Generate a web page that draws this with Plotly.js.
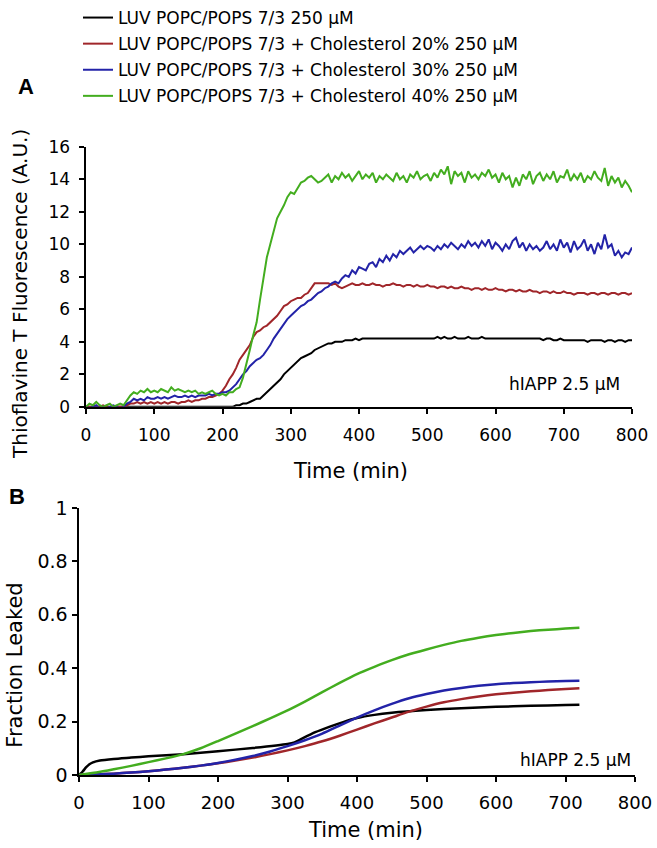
<!DOCTYPE html>
<html>
<head>
<meta charset="utf-8">
<script src="https://cdn.plot.ly/plotly-3.0.1.min.js"></script>
<style>html,body{margin:0;padding:0;background:#fff;}</style>
</head>
<body>
<div id="chart" style="width:657px;height:848px;"></div>
<script>
// ---------- Labels ----------
var seriesNames = [
  "LUV POPC/POPS 7/3 250 \u03bcM",
  "LUV POPC/POPS 7/3 + Cholesterol 20% 250 \u03bcM",
  "LUV POPC/POPS 7/3 + Cholesterol 30% 250 \u03bcM",
  "LUV POPC/POPS 7/3 + Cholesterol 40% 250 \u03bcM"
];
var seriesColors = ["#000000", "#a0262a", "#2323a8", "#43ad1f"];
var xTicks = [0,100,200,300,400,500,600,700,800];
var yTicksA = [0,2,4,6,8,10,12,14,16];
var yTicksB = [0,0.2,0.4,0.6,0.8,1];
var titleA_y = "Thioflavine T Fluorescence (A.U.)";
var titleB_y = "Fraction Leaked";
var titleX = "Time (min)";
var conditionNote = "hIAPP 2.5 \u03bcM";

// ---------- Panel A: ThT fluorescence (time in min) ----------
var tA = [0,5,10,15,20,25,30,35,40,45,50,55,60,65,70,75,80,85,90,95,
  100,105,110,115,120,125,130,135,140,145,150,155,160,165,170,175,180,185,190,195,
  200,205,210,215,220,225,230,235,240,245,250,255,260,265,270,275,280,285,290,295,
  300,305,310,315,320,325,330,335,340,345,350,355,360,365,370,375,380,385,390,395,
  400,405,410,415,420,425,430,435,440,445,450,455,460,465,470,475,480,485,490,495,
  500,505,510,515,520,525,530,535,540,545,550,555,560,565,570,575,580,585,590,595,
  600,605,610,615,620,625,630,635,640,645,650,655,660,665,670,675,680,685,690,695,
  700,705,710,715,720,725,730,735,740,745,750,755,760,765,770,775,780,785,790,795,800];

var thtBlack = [
  0,0,0,0,0,0,0,0,0,0,0,0,0,0,0,0,0,0,0,0,
  0,0,0,0,0,0,0,0,0,0,0,0,0,0,0,0,0,0,0,0,
  0,0,0,0,
  0.1,0.1,0.2,0.2,0.3,0.4,0.5,0.5,0.7,0.9,1.1,1.3,1.5,1.7,2.0,2.2,2.4,2.6,2.8,3.0,
  3.1,3.2,3.3,3.5,3.6,3.7,3.8,3.9,3.9,4.0,4.0,4.0,4.1,4.1,4.1,4.2,
  4.1,4.2,4.2,4.2,4.2,4.2,4.2,4.2,4.2,4.2,
  4.2,4.2,4.2,4.2,4.2,4.2,4.2,4.2,4.2,4.2,
  4.2,4.2,4.2,4.3,4.2,4.3,4.2,4.2,4.3,4.2,
  4.2,4.2,4.3,4.2,4.2,4.2,4.3,4.2,4.2,4.2,
  4.2,4.2,4.2,4.2,4.2,4.2,4.2,4.2,4.2,4.2,
  4.2,4.2,4.2,4.2,4.1,4.2,4.2,4.1,4.1,4.2,
  4.1,4.1,4.1,4.1,4.1,4.1,4.1,4.0,4.1,4.1,
  4.1,4.1,4.0,4.1,4.1,4.0,4.1,4.1,4.0,4.1,
  4.1];

var thtChol20 = [
  0.0,0.0,-0.1,0.0,0.0,0.1,0.0,-0.1,0.0,0.0,0.0,0.0,
  0.1,0.2,0.2,0.3,0.2,0.3,0.2,0.3,
  0.2,0.3,0.2,0.3,0.2,0.3,0.3,0.2,0.3,0.3,0.4,0.3,0.4,0.4,0.5,0.5,0.6,0.6,0.7,0.8,
  1.0,1.3,1.7,2.0,2.4,2.9,3.2,3.5,3.8,4.3,4.6,4.7,4.9,5.0,5.2,5.4,5.6,5.9,6.2,6.3,
  6.5,6.6,6.7,6.7,6.9,7.0,7.3,7.6,7.6,
  7.6,7.6,7.6,7.5,7.6,7.4,7.3,7.4,7.5,7.6,
  7.5,7.5,7.6,7.5,7.5,7.6,7.5,7.5,7.4,7.5,
  7.5,7.6,7.5,7.5,7.4,7.5,7.5,7.4,7.5,7.4,
  7.4,7.5,7.4,7.4,7.3,7.4,7.4,7.3,7.4,7.3,
  7.3,7.4,7.3,7.3,7.2,7.3,7.3,7.2,7.3,7.2,
  7.2,7.3,7.2,7.2,7.1,7.2,7.2,7.1,7.2,7.1,
  7.1,7.2,7.1,7.1,7.0,7.1,7.1,7.0,7.1,7.0,
  7.0,7.1,7.0,7.0,6.9,7.0,7.0,7.0,6.9,7.0,
  7.0,6.9,7.0,7.0,6.9,7.0,7.0,6.9,7.0,7.0,
  6.9,7.0];

var thtChol30 = [
  0.0,-0.1,0.0,0.1,-0.1,0.0,-0.1,0.0,0.1,0.0,-0.1,0.0,
  0.2,0.3,0.5,0.4,0.5,0.4,0.6,0.5,
  0.5,0.6,0.5,0.6,0.5,0.6,0.7,0.6,0.6,0.7,0.6,0.7,0.6,0.7,0.7,0.7,0.8,0.7,0.8,0.8,
  0.9,0.9,1.0,1.2,1.4,1.7,2.0,2.2,2.5,2.7,2.9,3.0,3.2,3.5,3.8,4.2,4.5,4.8,5.1,5.4,
  5.6,5.8,6.0,6.2,6.3,6.5,6.6,6.8,7.0,
  7.1,7.3,7.4,7.6,7.7,7.6,7.9,8.1,8.0,8.4,
  8.2,8.6,8.5,8.4,8.8,8.9,8.6,9.1,8.9,9.3,
  9.0,9.4,9.2,9.6,9.4,9.6,9.8,9.5,9.7,9.9,
  9.7,9.9,9.8,9.6,9.9,9.7,10.0,9.8,10.1,9.9,
  9.7,10.0,9.8,10.2,9.9,10.1,9.8,10.2,9.9,10.3,
  9.7,10.1,9.9,9.6,10.0,9.7,10.2,10.4,9.8,10.1,
  9.6,10.0,9.7,9.9,9.6,9.8,10.2,9.7,10.0,9.6,
  10.3,9.8,10.1,9.5,10.2,9.7,9.9,10.3,9.6,10.0,
  9.4,10.1,9.7,10.6,9.8,10.0,9.3,9.6,9.2,9.5,
  9.4,9.8];

var thtChol40 = [
  0.0,0.2,0.1,0.3,0.1,0.0,0.1,0.2,0.0,0.1,0.2,0.1,
  0.4,0.7,0.9,0.8,1.0,0.9,1.1,0.9,
  1.0,0.9,1.1,1.0,0.9,1.2,1.0,1.1,1.0,0.9,1.0,0.9,1.0,0.8,0.9,0.8,0.9,1.0,0.8,0.7,
  0.8,0.7,0.9,0.9,1.1,1.2,1.8,2.6,3.5,4.4,5.2,6.6,8.0,9.2,10.0,10.8,11.6,12.0,12.4,12.9,
  13.2,13.1,13.5,13.8,13.9,14.1,14.2,14.0,13.8,
  13.9,14.1,14.3,13.8,14.2,14.0,14.4,14.1,14.3,13.9,
  14.2,14.5,14.0,14.3,14.1,14.4,13.8,14.2,14.0,14.3,
  14.1,13.9,14.4,14.0,14.2,13.8,14.3,14.1,14.5,14.0,
  14.2,14.3,13.9,14.4,14.1,14.6,14.3,14.8,13.7,14.5,
  14.2,14.4,13.8,14.5,14.1,14.3,14.0,14.4,14.2,14.6,
  14.1,14.3,13.8,14.4,14.0,14.2,13.5,14.1,13.6,14.3,
  14.0,14.5,13.7,14.2,14.4,13.9,14.3,14.0,14.5,13.8,
  14.2,14.1,14.6,13.9,14.3,14.0,14.4,13.8,14.2,14.0,
  14.5,14.1,13.9,14.7,13.6,14.2,13.8,14.1,13.5,13.9,
  13.6,13.2];

// ---------- Panel B: fraction leaked ----------
var tB_black = [0,5,10,15,20,30,50,75,100,150,200,250,300,310,320,340,360,380,400,425,450,500,550,600,650,700,720];
var leakBlack = [0,0.012,0.028,0.04,0.047,0.054,0.06,0.065,0.07,0.078,0.089,0.101,0.116,0.122,0.135,0.16,0.18,0.198,0.213,0.225,0.233,0.243,0.25,0.255,0.259,0.262,0.263];

var tB = [0,25,50,75,100,125,150,175,200,225,250,275,300,325,350,375,400,425,450,475,500,525,550,575,600,625,650,675,700,720];
var leakChol20 = [0,0.002,0.005,0.009,0.014,0.02,0.027,0.035,0.044,0.054,0.065,0.078,0.092,0.108,0.126,0.147,0.17,0.193,0.215,0.237,0.256,0.272,0.284,0.294,0.302,0.308,0.313,0.318,0.322,0.325];
var leakChol30 = [0,0.002,0.005,0.009,0.014,0.02,0.027,0.035,0.045,0.057,0.071,0.088,0.108,0.13,0.155,0.185,0.215,0.242,0.266,0.287,0.303,0.316,0.326,0.334,0.34,0.344,0.347,0.35,0.352,0.353];
var leakChol40 = [0,0.009,0.021,0.034,0.048,0.062,0.078,0.1,0.127,0.155,0.183,0.212,0.242,0.275,0.31,0.345,0.378,0.405,0.43,0.452,0.47,0.487,0.502,0.514,0.524,0.532,0.539,0.544,0.548,0.551];

var FONT = "DejaVu Sans, sans-serif";

var aY = [thtBlack, thtChol20, thtChol30, thtChol40];
var bX = [tB_black, tB, tB, tB];
var bY = [leakBlack, leakChol20, leakChol30, leakChol40];

var traces = [];
for (var i = 0; i < 4; i++) {
  traces.push({
    x: tA, y: aY[i], xaxis: 'x', yaxis: 'y', type: 'scatter', mode: 'lines',
    name: seriesNames[i], legendgroup: 'g' + i,
    line: {color: seriesColors[i], width: 2}
  });
}
for (var j = 0; j < 4; j++) {
  traces.push({
    x: bX[j], y: bY[j], xaxis: 'x2', yaxis: 'y2', type: 'scatter', mode: 'lines',
    name: seriesNames[j], legendgroup: 'g' + j, showlegend: false,
    line: {color: seriesColors[j], width: 2.5, shape: 'spline', smoothing: 0.6}
  });
}

function axisBase(fs, standoff) {
  return {
    showgrid: false, zeroline: false, showline: true, linecolor: '#000', linewidth: 2.5,
    ticks: 'outside', ticklen: 5, tickwidth: 2, tickcolor: '#000',
    tickfont: {family: FONT, size: fs, color: '#000'}, ticklabelstandoff: standoff,
    automargin: false, fixedrange: true
  };
}

var xa = axisBase(17, 6); Object.assign(xa, {domain: [86/657, 632/657], range: [0, 800], tickvals: xTicks, anchor: 'y'});
var ya = axisBase(17, 5); Object.assign(ya, {domain: [1 - 405.3/848, 1 - 144.3/848], range: [0, 16], tickvals: yTicksA, anchor: 'x'});
var xb = axisBase(18, 5); Object.assign(xb, {domain: [79/657, 635/657], range: [0, 800], tickvals: xTicks, anchor: 'y2'});
var yb = axisBase(19, 0); Object.assign(yb, {domain: [1 - 774.7/848, 1 - 506.7/848], range: [0, 1], tickvals: yTicksB, anchor: 'x2'});

function px(x) { return x / 657; }
function py(y) { return 1 - y / 848; }
function note(text, x, y, size, opts) {
  var a = {text: text, x: px(x), y: py(y), xref: 'paper', yref: 'paper', showarrow: false,
    xanchor: 'center', yanchor: 'middle', font: {family: FONT, size: size, color: '#000'}};
  return Object.assign(a, opts || {});
}

var layout = {
  width: 657, height: 848,
  margin: {l: 0, r: 0, t: 0, b: 0},
  paper_bgcolor: '#fff', plot_bgcolor: '#fff',
  font: {family: FONT, color: '#000'},
  showlegend: true,
  legend: {x: 78/657, y: 1.004, xanchor: 'left', yanchor: 'top', bgcolor: 'rgba(0,0,0,0)',
    font: {family: FONT, size: 17, color: '#000'}, tracegroupgap: 1, itemwidth: 30},
  xaxis: xa, yaxis: ya, xaxis2: xb, yaxis2: yb,
  annotations: [
    note('<b>A</b>', 26, 84, 22, {font: {family: 'Liberation Sans, Arial, sans-serif', size: 22, color: '#000'}}),
    note('<b>B</b>', 17, 495, 22, {font: {family: 'Liberation Sans, Arial, sans-serif', size: 22, color: '#000'}}),
    note(titleA_y, 20, 292, 20, {textangle: -90}),
    note(titleX, 350, 470, 21),
    note(titleB_y, 15, 665, 21, {textangle: -90}),
    note(titleX, 365, 830, 21),
    note(conditionNote, 622, 382, 17, {xanchor: 'right'}),
    note(conditionNote, 633, 760, 17, {xanchor: 'right'})
  ]
};

Plotly.newPlot('chart', traces, layout, {displayModeBar: false, staticPlot: true});
</script>
</body>
</html>
